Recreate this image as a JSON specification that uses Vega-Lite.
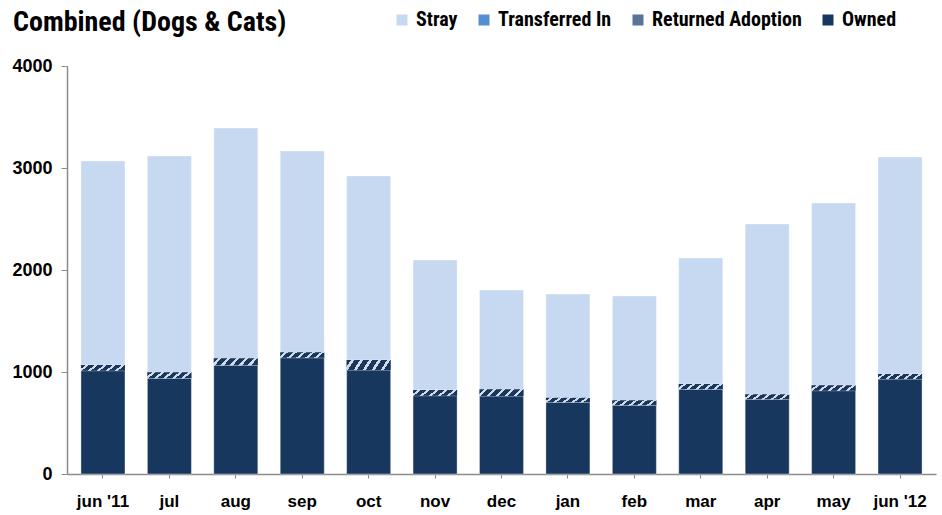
{
  "$schema": "https://vega.github.io/schema/vega-lite/v6.json",
  "autosize": "none",
  "width": 869,
  "height": 408,
  "padding": {"left": 67, "top": 66, "right": 6, "bottom": 41},
  "background": "white",
  "title": {
    "text": "Combined (Dogs & Cats)",
    "anchor": "start",
    "frame": "group",
    "dx": -54,
    "offset": -27,
    "font": "Roboto Condensed, DejaVu Sans Condensed, Roboto",
    "fontSize": 28,
    "fontWeight": "bold",
    "color": "#000000"
  },
  "data": {
    "values": [
      {"month": "jun '11", "type": "Owned", "value": 1013},
      {"month": "jun '11", "type": "Returned Adoption", "value": 56},
      {"month": "jun '11", "type": "Transferred In", "value": 0},
      {"month": "jun '11", "type": "Stray", "value": 2000},
      {"month": "jul", "type": "Owned", "value": 938},
      {"month": "jul", "type": "Returned Adoption", "value": 59},
      {"month": "jul", "type": "Transferred In", "value": 0},
      {"month": "jul", "type": "Stray", "value": 2121},
      {"month": "aug", "type": "Owned", "value": 1066},
      {"month": "aug", "type": "Returned Adoption", "value": 68},
      {"month": "aug", "type": "Transferred In", "value": 0},
      {"month": "aug", "type": "Stray", "value": 2258},
      {"month": "sep", "type": "Owned", "value": 1140},
      {"month": "sep", "type": "Returned Adoption", "value": 53},
      {"month": "sep", "type": "Transferred In", "value": 0},
      {"month": "sep", "type": "Stray", "value": 1974},
      {"month": "oct", "type": "Owned", "value": 1020},
      {"month": "oct", "type": "Returned Adoption", "value": 98},
      {"month": "oct", "type": "Transferred In", "value": 0},
      {"month": "oct", "type": "Stray", "value": 1804},
      {"month": "nov", "type": "Owned", "value": 768},
      {"month": "nov", "type": "Returned Adoption", "value": 56},
      {"month": "nov", "type": "Transferred In", "value": 0},
      {"month": "nov", "type": "Stray", "value": 1274},
      {"month": "dec", "type": "Owned", "value": 765},
      {"month": "dec", "type": "Returned Adoption", "value": 65},
      {"month": "dec", "type": "Transferred In", "value": 0},
      {"month": "dec", "type": "Stray", "value": 974},
      {"month": "jan", "type": "Owned", "value": 703},
      {"month": "jan", "type": "Returned Adoption", "value": 45},
      {"month": "jan", "type": "Transferred In", "value": 0},
      {"month": "jan", "type": "Stray", "value": 1017},
      {"month": "feb", "type": "Owned", "value": 673},
      {"month": "feb", "type": "Returned Adoption", "value": 49},
      {"month": "feb", "type": "Transferred In", "value": 0},
      {"month": "feb", "type": "Stray", "value": 1023},
      {"month": "mar", "type": "Owned", "value": 830},
      {"month": "mar", "type": "Returned Adoption", "value": 52},
      {"month": "mar", "type": "Transferred In", "value": 0},
      {"month": "mar", "type": "Stray", "value": 1236},
      {"month": "apr", "type": "Owned", "value": 732},
      {"month": "apr", "type": "Returned Adoption", "value": 49},
      {"month": "apr", "type": "Transferred In", "value": 0},
      {"month": "apr", "type": "Stray", "value": 1670},
      {"month": "may", "type": "Owned", "value": 817},
      {"month": "may", "type": "Returned Adoption", "value": 53},
      {"month": "may", "type": "Transferred In", "value": 0},
      {"month": "may", "type": "Stray", "value": 1787},
      {"month": "jun '12", "type": "Owned", "value": 931},
      {"month": "jun '12", "type": "Returned Adoption", "value": 49},
      {"month": "jun '12", "type": "Transferred In", "value": 0},
      {"month": "jun '12", "type": "Stray", "value": 2128}
    ]
  },
  "transform": [
    {"stack": "value", "groupby": ["month"], "sort": [{"field": "type", "order": "ascending"}], "as": ["v0", "v1"]}
  ],
  "encoding": {
    "x": {
      "field": "month",
      "type": "nominal",
      "sort": null,
      "scale": {"paddingInner": 0.337, "paddingOuter": 0.21},
      "axis": {
        "title": null,
        "labelAngle": 0,
        "labelFont": "Liberation Sans",
        "labelFontSize": 17,
        "labelFontWeight": "bold",
        "labelColor": "#000000",
        "labelPadding": 15,
        "tickSize": 4,
        "tickColor": "#8c8c8c",
        "domainColor": "#8c8c8c",
        "domainWidth": 1.5,
        "grid": false
      }
    },
    "y": {
      "field": "v1",
      "type": "quantitative",
      "scale": {"domain": [0, 4000], "nice": false},
      "axis": {
        "title": null,
        "values": [0, 1000, 2000, 3000, 4000],
        "format": "d",
        "labelFont": "Liberation Sans",
        "labelFontSize": 18,
        "labelFontWeight": "bold",
        "labelColor": "#000000",
        "labelPadding": 9,
        "tickSize": 6,
        "tickColor": "#8c8c8c",
        "domainColor": "#8c8c8c",
        "domainWidth": 1.5,
        "grid": false
      }
    },
    "y2": {"field": "v0"}
  },
  "layer": [
    {
      "mark": {"type": "bar", "stroke": "#ffffff", "strokeWidth": 0.75, "strokeOpacity": 0.5},
      "encoding": {
        "color": {
          "field": "type",
          "type": "nominal",
          "scale": {
            "domain": ["Stray", "Transferred In", "Returned Adoption", "Owned"],
            "range": ["#C6D9F1", "#558ED5", "#5B7396", "#17375E"]
          },
          "legend": {
            "title": null,
            "orient": "none",
            "direction": "horizontal",
            "legendX": 325,
            "legendY": -56,
            "padding": 0,
            "symbolType": "square",
            "symbolSize": 121,
            "symbolStrokeWidth": 0,
            "labelFont": "Roboto Condensed, DejaVu Sans Condensed, Roboto",
            "labelFontSize": 20,
            "labelFontWeight": "bold",
            "labelColor": "#000000",
            "labelOffset": 4,
            "labelLimit": 300,
            "columnPadding": 16
          }
        }
      }
    },
    {
      "transform": [{"filter": "datum.type === 'Returned Adoption'"}],
      "mark": {
        "type": "bar",
        "color": {
          "gradient": "linear",
          "x1": 0, "y1": 0, "x2": 1, "y2": 0.15,
          "stops": [
            {"offset": 0, "color": "#17375E"},
            {"offset": 0.1, "color": "#17375E"},
            {"offset": 0.1, "color": "#d5dbe4"},
            {"offset": 0.17, "color": "#d5dbe4"},
            {"offset": 0.17, "color": "#17375E"},
            {"offset": 0.3, "color": "#17375E"},
            {"offset": 0.3, "color": "#d5dbe4"},
            {"offset": 0.37, "color": "#d5dbe4"},
            {"offset": 0.37, "color": "#17375E"},
            {"offset": 0.5, "color": "#17375E"},
            {"offset": 0.5, "color": "#d5dbe4"},
            {"offset": 0.57, "color": "#d5dbe4"},
            {"offset": 0.57, "color": "#17375E"},
            {"offset": 0.7, "color": "#17375E"},
            {"offset": 0.7, "color": "#d5dbe4"},
            {"offset": 0.77, "color": "#d5dbe4"},
            {"offset": 0.77, "color": "#17375E"},
            {"offset": 0.9, "color": "#17375E"},
            {"offset": 0.9, "color": "#d5dbe4"},
            {"offset": 0.97, "color": "#d5dbe4"},
            {"offset": 0.97, "color": "#17375E"},
            {"offset": 1, "color": "#17375E"}
          ]
        }
      }
    }
  ],
  "config": {
    "view": {"stroke": null}
  }
}
